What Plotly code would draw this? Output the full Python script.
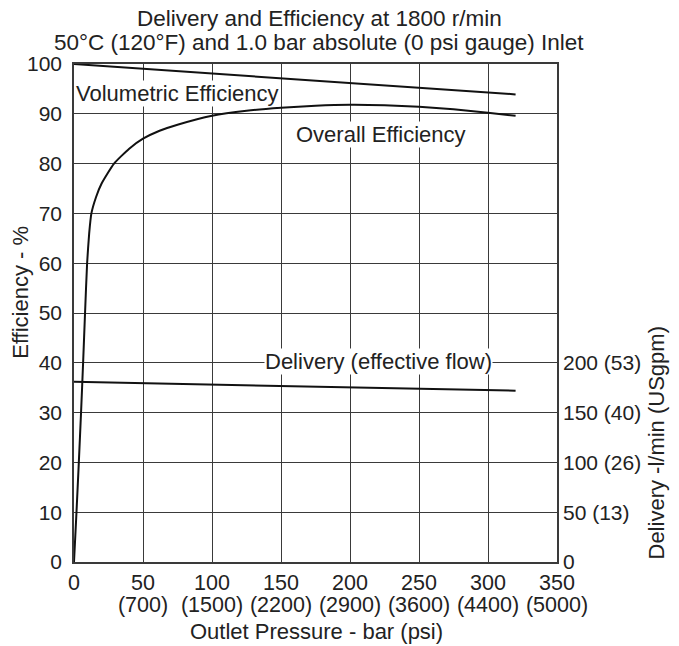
import plotly.graph_objects as go

# ---- data ----
pressure_overall = [0, 1.8, 3.5, 5.1, 6.6, 8.0, 9.5, 11.0, 12.6, 16.0, 20, 29, 40, 50, 62, 75,
                    100, 125, 150, 175, 200, 225, 250, 275, 300, 320]
overall_eff = [0, 10, 20, 30, 40, 50, 60, 66, 70, 73.3, 76, 80, 83, 85, 86.6, 87.8,
               89.6, 90.6, 91.2, 91.6, 91.8, 91.7, 91.4, 90.9, 90.2, 89.6]

pressure_vol = [0, 320]
volumetric_eff = [100, 93.9]

pressure_delivery = [0, 320]
delivery_lpm = [181, 172]

bar_tickvals = [0, 50, 100, 150, 200, 250, 300, 350]
bar_ticktext = ["0", "50", "100", "150", "200", "250", "300", "350"]
psi_tickvals = [50, 100, 150, 200, 250, 300, 350]
psi_ticktext = ["(700)", "(1500)", "(2200)", "(2900)", "(3600)", "(4400)", "(5000)"]
y_tickvals = [0, 10, 20, 30, 40, 50, 60, 70, 80, 90, 100]
y2_tickvals = [0, 50, 100, 150, 200]
y2_ticktext = ["0", "50 (13)", "100 (26)", "150 (40)", "200 (53)"]

FONT = "Liberation Sans, Arial, sans-serif"
FS = 22
FS_X = 21.5
FS_Y = 21
TXT = "#222"
GRID = "#3a3a3a"

# the page body has an 8px default margin, so the figure starts at (8, 8) in the window
OFF = 8
W, H = 679 - OFF, 646 - OFF
ML, MT = 74 - OFF, 64 - OFF
MR = W - (557 - OFF)
MB = H - (562.5 - OFF)
PH = H - MT - MB
PW = W - ML - MR


def py(ypx):
    """window pixel y -> paper y"""
    return 1 + (MT - (ypx - OFF)) / PH


def px(xpx):
    """window pixel x -> paper x"""
    return ((xpx - OFF) - ML) / PW


fig = go.Figure()
fig.add_trace(go.Scatter(x=pressure_vol, y=volumetric_eff, mode="lines",
                         line=dict(color="#111", width=2), showlegend=False))
fig.add_trace(go.Scatter(x=pressure_overall, y=overall_eff, mode="lines",
                         line=dict(color="#111", width=2, shape="spline", smoothing=0.5),
                         showlegend=False))
fig.add_trace(go.Scatter(x=pressure_delivery, y=delivery_lpm, mode="lines",
                         xaxis="x2", yaxis="y2",
                         line=dict(color="#111", width=2), showlegend=False))

f = dict(size=FS, color=TXT, family=FONT)
annotations = [
    dict(text="Volumetric Efficiency", x=0.6, y=94, xref="x", yref="y", xanchor="left",
         yanchor="middle", showarrow=False, bgcolor="white", borderpad=0, font=f),
    dict(text="Overall Efficiency", x=222.5, y=85.8, xref="x", yref="y", xanchor="center",
         yanchor="middle", showarrow=False, bgcolor="white", borderpad=0, font=f),
    dict(text="Delivery (effective flow)", x=220.5, y=40.3, xref="x", yref="y",
         xanchor="center", yanchor="middle", showarrow=False, bgcolor="white",
         borderpad=0, font=f),
    dict(text="Efficiency - %", x=px(21), y=py(293), xref="paper", yref="paper",
         xanchor="center", yanchor="middle", showarrow=False, textangle=-90, font=f),
    dict(text="Delivery -l/min (USgpm)", x=px(656), y=0, xref="paper", yref="paper",
         xanchor="center", yanchor="bottom", showarrow=False, textangle=-90, font=f),
    dict(text="Outlet Pressure - bar (psi)", x=px(316), y=py(632), xref="paper",
         yref="paper", xanchor="center", yanchor="middle", showarrow=False, font=f),
    dict(text="Delivery and Efficiency at 1800 r/min", x=px(319), y=py(18.5), xref="paper",
         yref="paper", xanchor="center", yanchor="middle", showarrow=False,
         font=dict(size=22.5, color=TXT, family=FONT)),
    dict(text="50°C (120°F) and 1.0 bar absolute (0 psi gauge) Inlet", x=px(319),
         y=py(42.5), xref="paper", yref="paper", xanchor="center", yanchor="middle",
         showarrow=False, font=dict(size=22.5, color=TXT, family=FONT)),
]

fig.update_layout(
    width=W, height=H,
    margin=dict(l=ML, r=MR, t=MT, b=MB, autoexpand=False),
    paper_bgcolor="white", plot_bgcolor="white",
    font=dict(family=FONT, size=FS, color=TXT),
    annotations=annotations,
    xaxis=dict(range=[0, 350], tickvals=bar_tickvals, ticktext=bar_ticktext,
               showgrid=True, gridcolor=GRID, gridwidth=1,
               showline=True, linecolor=GRID, linewidth=1.5, mirror=True,
               ticks="", zeroline=False, ticklabelstandoff=0,
               tickfont=dict(size=FS_X, family=FONT, color=TXT)),
    xaxis2=dict(range=[0, 350], tickvals=psi_tickvals, ticktext=psi_ticktext,
                overlaying="x", side="bottom", anchor="y", showgrid=False,
                showline=False, zeroline=False, ticks="", ticklabelstandoff=27,
                tickfont=dict(size=FS_X, family=FONT, color=TXT)),
    yaxis=dict(range=[0, 100], tickvals=y_tickvals,
               showgrid=True, gridcolor=GRID, gridwidth=1,
               showline=True, linecolor=GRID, linewidth=1.5, mirror=True,
               ticks="", zeroline=False, ticklabelstandoff=6,
               tickfont=dict(size=FS_Y, family=FONT, color=TXT)),
    yaxis2=dict(range=[0, 500], tickvals=y2_tickvals, ticktext=y2_ticktext,
                overlaying="y", side="right", anchor="x", showgrid=False, zeroline=False,
                showline=False, ticks="", ticklabelstandoff=5,
                tickfont=dict(size=FS_Y, family=FONT, color=TXT)),
)

fig.write_html("out.html")
